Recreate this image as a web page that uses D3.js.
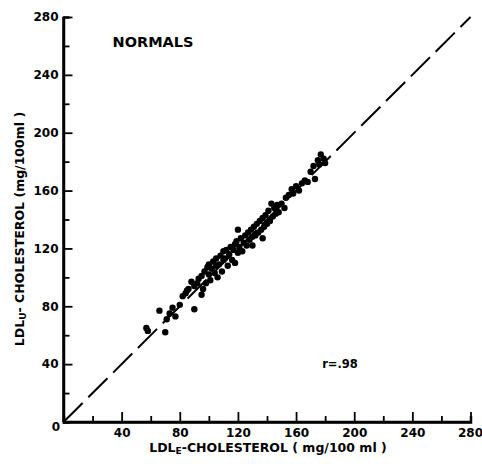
<!DOCTYPE html>
<html>
<head>
<meta charset="utf-8">
<script src="https://cdn.jsdelivr.net/npm/d3@7"></script>
<style>
  body { margin: 0; background: #fff; }
  svg { display: block; }
  text { font-family: "DejaVu Sans", sans-serif; font-weight: bold; fill: #000; }
  .axis path, .axis line { stroke: #000; }
</style>
</head>
<body>
<script>
// LDL-E vs LDL-U cholesterol values (mg/100ml)
var ldlE = [57,58,66,70,71,73,75,77,80,82,84,85,86,88,90,90,92,93,95,95,
            96,97,98,99,100,100,101,102,103,104,105,105,106,107,108,109,110,110,111,112,
            113,114,115,116,117,118,118,119,120,120,121,122,123,124,125,126,127,128,129,130,
            130,131,132,133,134,135,136,137,137,138,139,140,141,142,143,144,145,146,147,148,
            150,152,153,155,157,158,160,162,164,166,168,170,172,173,175,176,177,179,180];
var ldlU = [65,63,77,62,71,75,79,73,81,87,89,91,92,97,78,94,96,99,88,101,
            92,104,96,107,102,109,98,106,111,103,108,113,100,109,115,104,112,118,113,119,
            108,116,121,112,119,123,110,125,117,133,121,127,118,124,129,122,131,126,133,128,
            122,135,129,137,131,139,133,141,127,135,143,137,146,139,151,142,148,144,150,145,
            151,148,155,157,161,158,163,160,165,167,166,173,177,168,181,178,185,182,179];
var majorTicks = [40, 80, 120, 160, 200, 240, 280];
var minorTicks = [20, 60, 100, 140, 180, 220, 260];

var width = 482, height = 464;

var svg = d3.select("body").append("svg")
    .attr("width", width)
    .attr("height", height);

var x = d3.scaleLinear().domain([0, 280]).range([63.5, 470.5]);
var y = d3.scaleLinear().domain([0, 280]).range([422, 17]);

//identity line, dashed
svg.append("line")
    .attr("x1", x(0)).attr("y1", y(0))
    .attr("x2", x(280)).attr("y2", y(280))
    .attr("stroke", "#000")
    .attr("stroke-width", 2)
    .attr("stroke-dasharray", "27,8");

//points
svg.selectAll(".dot")
    .data(ldlE.map(function(d, i){ return [d, ldlU[i]]; }))
    .enter()
    .append("circle")
    .attr("class", "dot")
    .attr("cx", function(d){ return x(d[0]); })
    .attr("cy", function(d){ return y(d[1]); })
    .attr("r", 3.2)
    .attr("fill", "#000");

//x axis, ticks pointing up
var xMinor = svg.append("g").attr("class", "axis")
    .attr("transform", "translate(0," + y(0) + ")")
    .call(d3.axisBottom(x).tickValues(minorTicks).tickSize(-6).tickFormat(""));
var xMajor = svg.append("g").attr("class", "axis")
    .attr("transform", "translate(0," + y(0) + ")")
    .call(d3.axisBottom(x).tickValues(majorTicks).tickSize(-10).tickPadding(6).tickSizeOuter(0));

//y axis, ticks pointing right
var yMinor = svg.append("g").attr("class", "axis")
    .attr("transform", "translate(" + x(0) + ",0)")
    .call(d3.axisLeft(y).tickValues(minorTicks).tickSize(-6).tickFormat(""));
var yMajor = svg.append("g").attr("class", "axis")
    .attr("transform", "translate(" + x(0) + ",0)")
    .call(d3.axisLeft(y).tickValues(majorTicks).tickSize(-9).tickPadding(5).tickSizeOuter(0));

[xMinor, xMajor, yMinor, yMajor].forEach(function(g){
    g.selectAll("path").attr("stroke-width", 2.5);
    g.selectAll("line").attr("stroke-width", 1.8);
    g.selectAll("text")
        .style("font-family", "DejaVu Sans, sans-serif")
        .style("font-weight", "bold")
        .style("font-size", "12px");
});
xMajor.selectAll("path").attr("d", "M" + x(0) + ",0H" + x(280));
yMajor.selectAll("path").attr("d", "M0," + y(0) + "V" + y(280));
xMajor.selectAll("text").attr("dy", "0.71em");
xMajor.selectAll("text").filter(function(d){ return d === 280; })
    .attr("text-anchor", "end")
    .attr("x", 12);

//corner zero
svg.append("text")
    .attr("x", 56)
    .attr("y", 431)
    .attr("text-anchor", "middle")
    .style("font-size", "12px")
    .text("0");

//x axis title
var xt = svg.append("text")
    .attr("x", 268)
    .attr("y", 452)
    .attr("text-anchor", "middle")
    .style("font-size", "12.5px");
xt.append("tspan").text("LDL");
xt.append("tspan").attr("dy", 2).style("font-size", "9px").text("E");
xt.append("tspan").attr("dy", -2).text("-CHOLESTEROL  ( mg/100 ml )");

//y axis title
var yt = svg.append("text")
    .attr("transform", "translate(24,229) rotate(-90)")
    .attr("text-anchor", "middle")
    .style("font-size", "12.5px");
yt.append("tspan").text("LDL");
yt.append("tspan").attr("dy", 2).style("font-size", "9px").text("U");
yt.append("tspan").attr("dy", -2).text("- CHOLESTEROL  (mg/100ml )");

//labels
svg.append("text")
    .attr("x", 153)
    .attr("y", 47)
    .attr("text-anchor", "middle")
    .style("font-size", "14.5px")
    .text("NORMALS");

svg.append("text")
    .attr("x", 340)
    .attr("y", 368)
    .attr("text-anchor", "middle")
    .style("font-size", "11.5px")
    .text("r=.98");
</script>
</body>
</html>
